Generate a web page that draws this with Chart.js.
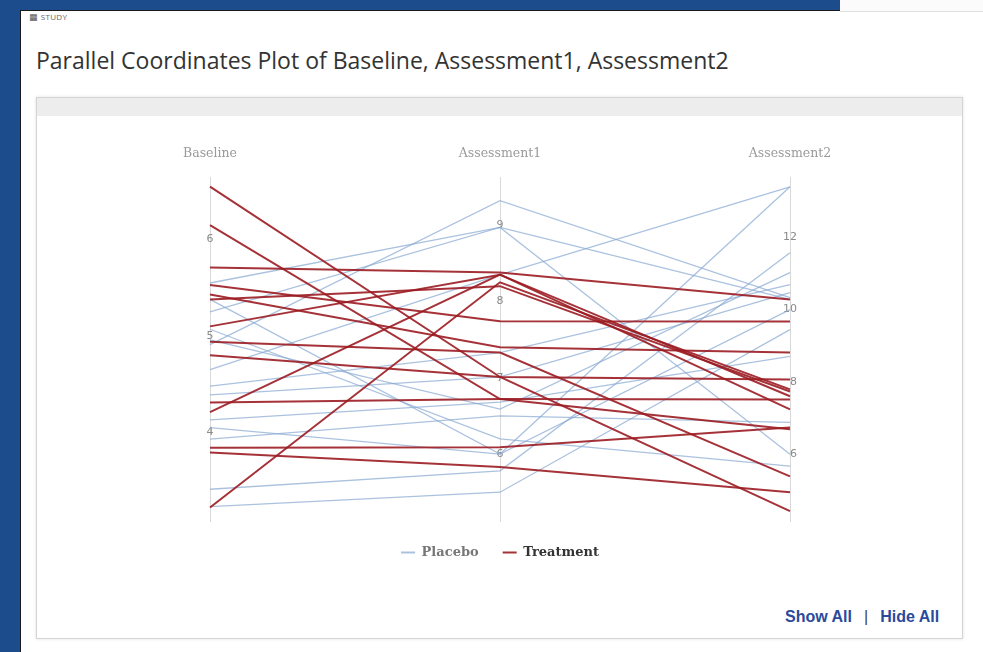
<!DOCTYPE html>
<html>
<head>
<meta charset="utf-8">
<script src="https://cdn.jsdelivr.net/npm/chart.js@4.4.1/dist/chart.umd.min.js"></script>
<style>
  html, body { margin: 0; padding: 0; }
  body { width: 983px; height: 652px; background: #1c4c8c; position: relative; overflow: hidden; font-family: "Open Sans", sans-serif; }
  .panel { position: absolute; left: 20px; top: 10px; right: 0; bottom: 0; background: #fff; border-left: 1px solid #1a1a1a; border-top: 1px solid #1a1a1a; }
  .corner { position: absolute; left: 840px; top: 0; width: 143px; height: 11px; background: #fbfbfb; border-bottom: 1px solid #e0e0e0; }
  .study { position: absolute; left: 29px; top: 11px; font-size: 8px; color: #666; letter-spacing: 0.3px; }
  .study .ico { font-family: "DejaVu Sans"; font-size: 9px; color: #555; margin-right: 3px; }
  .title { position: absolute; left: 36px; top: 44px; font-size: 23px; color: #333; }
  .box { position: absolute; left: 36px; top: 97px; width: 925px; height: 540px; border: 1px solid #d4d4d4; box-shadow: 0 0 3px rgba(0,0,0,0.12); background: #fff; }
  .band { position: absolute; left: 0; top: 0; right: 0; height: 18px; background: #ededed; }
  .wrap { position: absolute; left: 42px; top: 120px; width: 915px; height: 449px; }
  .links { position: absolute; left: 785px; top: 608px; font-family: "Liberation Sans", Arial, sans-serif; font-weight: bold; font-size: 16px; color: #2b4a9b; }
  .links .sep { color: #444; font-weight: normal; margin: 0 12px; }
</style>
</head>
<body>
<div class="panel"></div>
<div class="corner"></div>
<div class="study"><span class="ico">&#9638;</span>STUDY</div>
<div class="title">Parallel Coordinates Plot of Baseline, Assessment1, Assessment2</div>
<div class="box"><div class="band"></div></div>
<div class="wrap"><canvas id="pcChart"></canvas></div>
<div class="links">Show All<span class="sep">|</span>Hide All</div>

<script>
// Axes of the plot (each one has its own range)
const axisLabels = ['Baseline', 'Assessment1', 'Assessment2'];
const axisMin = [3.07, 5.11, 4.13];
const axisMax = [6.65, 9.63, 13.65];
const baselineTicks = [4, 5, 6];
const assess1Ticks = [6, 7, 8, 9];
const assess2Ticks = [6, 8, 10, 12];

// Placebo subjects
const placeboBaseline = [4.91, 5.25, 5.55, 4.65, 4.05, 3.41, 3.23, 4.48, 4.96, 4.13, 3.93, 5.07, 5.38, 4.39];
const placeboAssess1 = [9.32, 8.97, 8.97, 8.35, 6.00, 5.78, 5.50, 7.33, 6.59, 6.68, 6.50, 6.20, 6.00, 7.01];
const placeboAssess2 = [10.32, 6.00, 10.27, 13.38, 13.38, 11.56, 9.44, 10.68, 11.01, 8.70, 6.88, 5.67, 9.99, 10.46];

// Treatment subjects
const treatBaseline = [6.55, 6.15, 5.71, 5.53, 5.43, 5.38, 5.10, 4.94, 4.80, 4.31, 4.21, 3.84, 3.79, 3.22];
const treatAssess1 = [7.01, 6.72, 8.38, 7.74, 7.40, 8.20, 8.35, 7.33, 7.01, 6.72, 8.35, 6.09, 5.83, 8.25];
const treatAssess2 = [4.43, 6.69, 10.27, 9.66, 8.81, 7.73, 7.60, 5.39, 8.06, 7.51, 7.24, 6.74, 4.95, 7.79];

const placeboColor = 'rgba(135, 168, 210, 0.7)';
const treatColor = 'rgba(155, 28, 34, 0.9)';

// put a value on the 0..1 scale of its own axis
function norm(v, i) {
    return (v - axisMin[i]) / (axisMax[i] - axisMin[i]);
}

function makeLines(name, b, a1, a2, color, width, order) {
    let sets = [];
    for (let k = 0; k < b.length; k++) {
        sets.push({
            label: name + ' ' + (k + 1),
            data: [norm(b[k], 0), norm(a1[k], 1), norm(a2[k], 2)],
            yAxisID: 'yn',
            borderColor: color,
            borderWidth: width,
            pointRadius: 0,
            tension: 0,
            fill: false,
            order: order
        });
    }
    return sets;
}

const tickSets = [baselineTicks, assess1Ticks, assess2Ticks];

function axisScale(i) {
    // labels are right aligned at the axis position, so nudge them a bit
    // to the right to sit centred on the axis line (drawn by the x grid)
    const nudge = i === 2 ? 0.024 : 0.012;
    return {
        type: 'linear',
        position: { x: i + nudge },
        min: axisMin[i],
        max: axisMax[i],
        afterBuildTicks: function (scale) {
            scale.ticks = tickSets[i].map(v => ({ value: v }));
        },
        grid: { display: false, drawTicks: false },
        border: { display: false },
        ticks: {
            color: '#8a8a8a',
            font: { family: 'DejaVu Sans', size: 11 },
            padding: 0
        }
    };
}

const ctx = document.getElementById('pcChart').getContext('2d');

const chart = new Chart(ctx, {
    type: 'line',
    data: {
        labels: axisLabels,
        datasets: makeLines('Treatment', treatBaseline, treatAssess1, treatAssess2, treatColor, 2, 0)
            .concat(makeLines('Placebo', placeboBaseline, placeboAssess1, placeboAssess2, placeboColor, 1.3, 1))
    },
    options: {
        responsive: true,
        maintainAspectRatio: false,
        animation: false,
        events: [],
        layout: {
            padding: { left: 168, right: 167, top: 10, bottom: 0 }
        },
        scales: {
            x: {
                type: 'category',
                position: 'top',
                offset: false,
                grid: { display: true, color: '#d9d9d9', lineWidth: 1, drawTicks: false },
                border: { display: false },
                ticks: {
                    color: '#9a9a9a',
                    font: { family: 'DejaVu Serif', size: 12.5 },
                    padding: 16,
                    maxRotation: 0,
                    autoSkip: false
                }
            },
            yn: { display: false, min: 0, max: 1 },
            yB: axisScale(0),
            yA1: axisScale(1),
            yA2: axisScale(2)
        },
        plugins: {
            tooltip: { enabled: false },
            legend: {
                position: 'bottom',
                onClick: null,
                labels: {
                    usePointStyle: true,
                    pointStyleWidth: 14,
                    boxHeight: 12,
                    padding: 24,
                    font: { family: 'DejaVu Serif', size: 13, weight: 'bold' },
                    generateLabels: function () {
                        return [
                            { text: 'Placebo', strokeStyle: placeboColor, fillStyle: placeboColor, lineWidth: 2, pointStyle: 'line', fontColor: '#777', hidden: false },
                            { text: 'Treatment', strokeStyle: treatColor, fillStyle: treatColor, lineWidth: 2, pointStyle: 'line', fontColor: '#333', hidden: false }
                        ];
                    }
                }
            }
        }
    }
});
</script>
</body>
</html>
